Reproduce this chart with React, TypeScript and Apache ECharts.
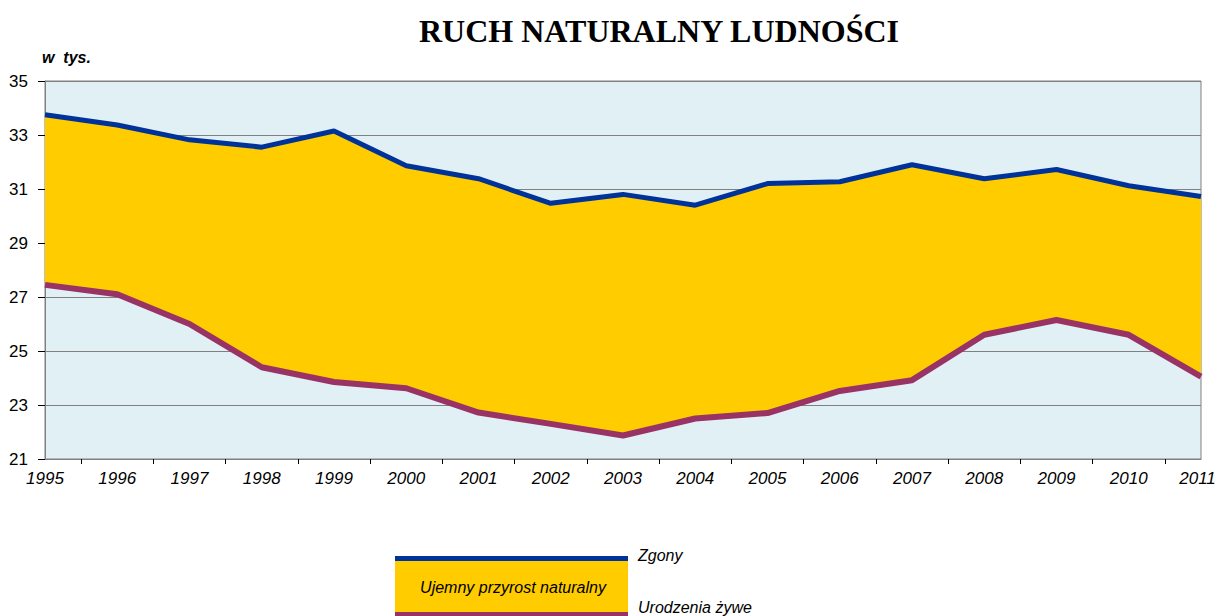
import React, { useEffect, useRef } from "react";
import * as echarts from "echarts";

const years = ["1995","1996","1997","1998","1999","2000","2001","2002","2003","2004","2005","2006","2007","2008","2009","2010","2011"];
const deaths = [33.75, 33.37, 32.82, 32.55, 33.15, 31.86, 31.38, 30.47, 30.8, 30.4, 31.2, 31.27, 31.9, 31.38, 31.72, 31.12, 30.72];
const births = [27.45, 27.1, 26.0, 24.4, 23.85, 23.62, 22.72, 22.3, 21.87, 22.5, 22.7, 23.52, 23.92, 25.6, 26.15, 25.6, 24.05];
const yTicks = { min: 21, max: 35, interval: 2 };

export default function App() {
  const ref = useRef<HTMLDivElement>(null);
  useEffect(() => {
    const chart = echarts.init(ref.current!, null, { renderer: "svg" });
    const diff = deaths.map((d, i) => +(d - births[i]).toFixed(3));
    const mids = years.slice(1).map((y) => y);
    const labelFont = { fontFamily: "Liberation Sans", fontStyle: "italic", fontSize: 17, color: "#000" };
    const option: any = {
      animation: false,
      backgroundColor: "#ffffff",
      grid: {
        left: 45, top: 81, right: 16, bottom: 157,
        outerBoundsMode: "none", containLabel: false,
        show: true, backgroundColor: "#E0F0F5", borderColor: "#808080", borderWidth: 1,
      },
      xAxis: [
        {
          type: "category", data: years, boundaryGap: false,
          axisLine: { lineStyle: { color: "#808080" } },
          axisTick: { show: false },
          axisLabel: {
            ...labelFont, margin: 11, interval: 0,
            formatter: (v: string, i: number) => (i === years.length - 1 ? `{last|${v}}` : v),
            rich: { last: { ...labelFont, padding: [0, 7, 0, 0] } },
          },
          splitLine: { show: false },
        },
        {
          type: "category", data: mids, boundaryGap: true, position: "bottom",
          axisLine: { show: false },
          axisTick: { show: true, alignWithLabel: true, length: 5, inside: false, lineStyle: { color: "#000" } },
          axisLabel: { show: false },
          splitLine: { show: false },
        },
      ],
      yAxis: {
        type: "value", min: yTicks.min, max: yTicks.max, interval: yTicks.interval,
        axisLine: { show: true, lineStyle: { color: "#808080" } },
        axisTick: { show: true, length: 7, lineStyle: { color: "#000" } },
        axisLabel: { fontFamily: "Liberation Sans", fontSize: 17, color: "#000", margin: 17 },
        splitLine: { show: true, lineStyle: { color: "#808080", width: 1 } },
      },
      series: [
        {
          name: "Urodzenia żywe", type: "line", data: births, stack: "s", symbol: "none",
          lineStyle: { color: "#993366", width: 6 }, z: 4,
        },
        {
          name: "Ujemny przyrost naturalny", type: "line", data: diff, stack: "s", symbol: "none",
          lineStyle: { width: 0, opacity: 0 }, areaStyle: { color: "#FFCC00", opacity: 1 }, z: 2,
        },
        {
          name: "Zgony", type: "line", data: deaths, symbol: "none",
          lineStyle: { color: "#003399", width: 5 }, z: 5,
        },
      ],
      graphic: [
        { type: "text", x: 659, y: 31, style: { text: "RUCH NATURALNY LUDNOŚCI", font: "bold 32px 'Liberation Serif'", fill: "#000", align: "center", verticalAlign: "middle" } },
        { type: "text", x: 42, y: 57, style: { text: "w  tys.", font: "italic bold 16px 'Liberation Sans'", fill: "#000", verticalAlign: "middle" } },
        { type: "rect", shape: { x: 395, y: 558, width: 233, height: 56 }, style: { fill: "#FFCC00" } },
        { type: "rect", shape: { x: 395, y: 556, width: 233, height: 5 }, style: { fill: "#003399" } },
        { type: "rect", shape: { x: 395, y: 612, width: 233, height: 6 }, style: { fill: "#993366" } },
        { type: "text", x: 513, y: 587, style: { text: "Ujemny przyrost naturalny", font: "italic 16px 'Liberation Sans'", fill: "#000", align: "center", verticalAlign: "middle" } },
        { type: "text", x: 638, y: 555, style: { text: "Zgony", font: "italic 16px 'Liberation Sans'", fill: "#000", verticalAlign: "middle" } },
        { type: "text", x: 638, y: 615, style: { text: "Urodzenia żywe", font: "italic 16px 'Liberation Sans'", fill: "#000", verticalAlign: "bottom" } },
      ],
    };
    chart.setOption(option);
    return () => chart.dispose();
  }, []);
  return <div ref={ref} style={{ width: 1217, height: 616, position: "absolute", left: 0, top: 0 }} />;
}
